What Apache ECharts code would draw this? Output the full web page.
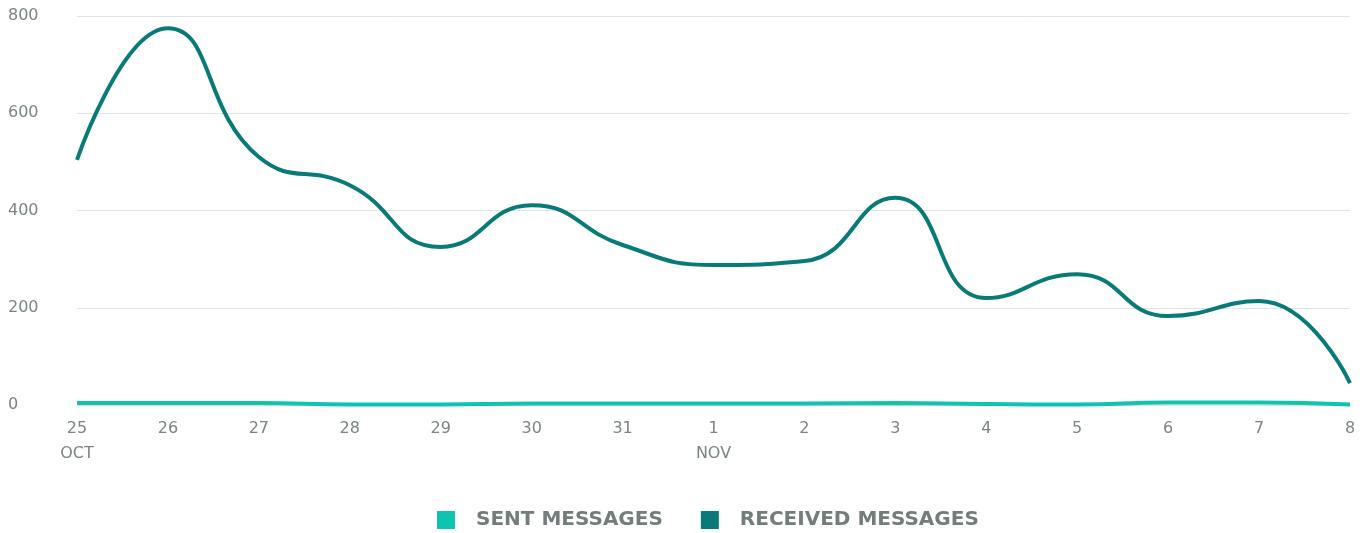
<!DOCTYPE html>
<html><head><meta charset="utf-8">
<script src="https://cdn.jsdelivr.net/npm/echarts@6/dist/echarts.min.js"></script>
<style>html,body{margin:0;padding:0;background:#fff}#c{width:1368px;height:533px}</style>
</head><body><div id="c"></div>
<script>
const days = ['25','26','27','28','29','30','31','1','2','3','4','5','6','7','8'];
const monthLabels = {'25':'OCT','1':'NOV'};
const sentMessages = [4,4,4,1,1,3,3,3,3,4,2,1,5,5,1];
const receivedMessages = [504,775,510,452,325,411,329,288,296,426,220,269,183,214,45];
const yTicks = [0,200,400,600,800];

const chart = echarts.init(document.getElementById('c'));
chart.setOption({
  animation:false,
  grid:{left:77,right:18,top:16,bottom:128,containLabel:false},
  xAxis:{type:'category',data:days,boundaryGap:false,
    axisLine:{show:false},axisTick:{show:false},
    axisLabel:{color:'#7b8584',fontFamily:'DejaVu Sans',fontSize:16,margin:11,lineHeight:25,
      formatter:function(v){return monthLabels[v]?v+'\n'+monthLabels[v]:v;}}},
  yAxis:{type:'value',min:yTicks[0],max:yTicks[yTicks.length-1],interval:200,
    axisLine:{show:false},axisTick:{show:false},
    splitLine:{lineStyle:{color:'#e3e3e3',width:1}},
    axisLabel:{color:'#7b8584',fontFamily:'DejaVu Sans',fontSize:16,align:'left',margin:69}},
  legend:{top:505,left:432,itemWidth:18,itemHeight:18,itemGap:38,icon:'rect',
    textStyle:{color:'#727d7c',fontFamily:'DejaVu Sans',fontSize:20,fontWeight:'bold',padding:[0,0,0,16]},
    data:['SENT MESSAGES','RECEIVED MESSAGES']},
  series:[
    {name:'SENT MESSAGES',type:'line',data:sentMessages,smooth:true,showSymbol:false,
     itemStyle:{color:'#0fc3b1'},lineStyle:{width:4,color:'#0fc3b1'}},
    {name:'RECEIVED MESSAGES',type:'line',data:receivedMessages,smooth:true,showSymbol:false,
     itemStyle:{color:'#087b78'},lineStyle:{width:4,color:'#087b78'}}
  ]
});
</script></body></html>
